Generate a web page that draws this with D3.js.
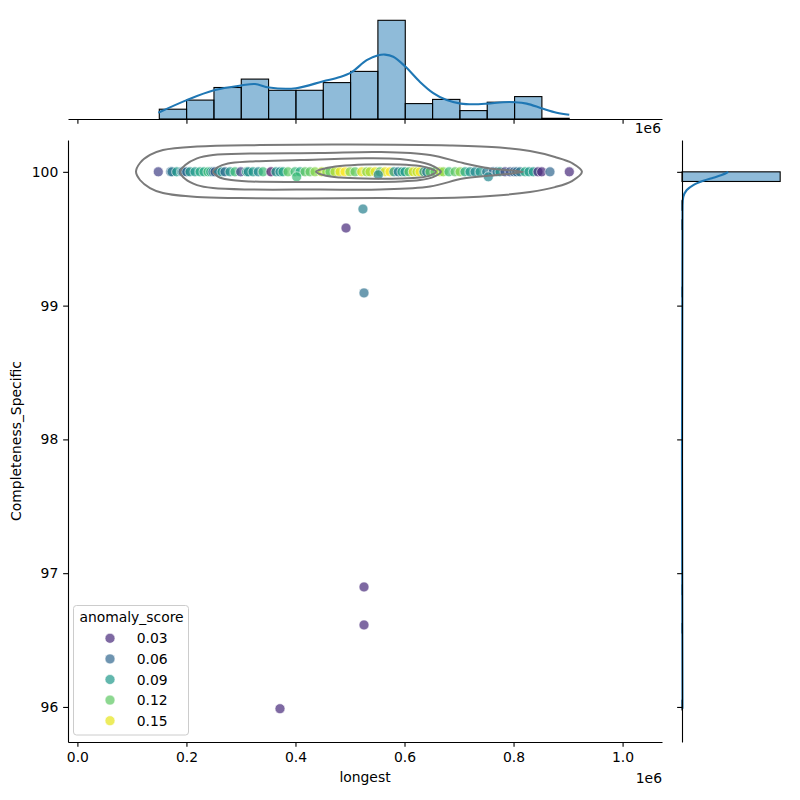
<!DOCTYPE html>
<html lang="en">
<head>
<meta charset="UTF-8">
<title>longest vs Completeness_Specific</title>
<script src="https://d3js.org/d3.v7.min.js"></script>
<style>
  body { margin: 0; background: #fff; }
  text { font-family: "DejaVu Sans", sans-serif; }
</style>
</head>
<body>
<svg width="800" height="800"></svg>
<script>
// ---- values ----

// scatter points (longest, Completeness_Specific, anomaly_score)
var pointLongest = [148400, 171100, 173500, 182100, 191300, 193700, 200500, 206500, 215700, 224900,
  232200, 239500, 244500, 248700, 252400, 257900, 265200, 270700, 279900, 289000,
  299500, 310500, 313500, 322100, 331800, 340400, 355100, 364300, 371600, 377100,
  386300, 399100, 408300, 417500, 426600, 435800, 448100, 457300, 463300, 472500,
  481700, 490800, 500000, 509200, 521500, 530600, 536700, 545900, 555000, 564200,
  573300, 580700, 588600, 595400, 600900, 608200, 616100, 622900, 628400, 635700,
  640700, 646700, 655900, 665000, 671100, 681600, 692600, 701800, 710900, 720100,
  729300, 738500, 750700, 762800, 769600, 775100, 784300, 793500, 800800, 805800,
  811800, 821000, 828300, 836200, 844800, 851600, 866800, 902300,
  402200, 551900, 753700, 523800, 492700, 525700, 525700, 525700, 371600];
var pointCompleteness = [100, 100, 100, 100, 100, 100, 100, 100, 100, 100,
  100, 100, 100, 100, 100, 100, 100, 100, 100, 100,
  100, 100, 100, 100, 100, 100, 100, 100, 100, 100,
  100, 100, 100, 100, 100, 100, 100, 100, 100, 100,
  100, 100, 100, 100, 100, 100, 100, 100, 100, 100,
  100, 100, 100, 100, 100, 100, 100, 100, 100, 100,
  100, 100, 100, 100, 100, 100, 100, 100, 100, 100,
  100, 100, 100, 100, 100, 100, 100, 100, 100, 100,
  100, 100, 100, 100, 100, 100, 100, 100,
  99.963, 99.978, 99.963, 99.722, 99.580, 99.095, 96.897, 96.613, 95.987];
var pointScore = [0.04, 0.06, 0.07, 0.09, 0.08, 0.06, 0.06, 0.09, 0.09, 0.10,
  0.10, 0.11, 0.10, 0.07, 0.05, 0.08, 0.09, 0.06, 0.09, 0.11,
  0.04, 0.10, 0.08, 0.09, 0.08, 0.11, 0.017, 0.09, 0.08, 0.10,
  0.12, 0.11, 0.10, 0.12, 0.12, 0.13, 0.14, 0.13, 0.12, 0.14,
  0.15, 0.16, 0.13, 0.12, 0.15, 0.13, 0.14, 0.15, 0.12, 0.15,
  0.16, 0.09, 0.07, 0.10, 0.09, 0.12, 0.15, 0.14, 0.16, 0.09,
  0.07, 0.12, 0.12, 0.14, 0.13, 0.11, 0.12, 0.13, 0.10, 0.09,
  0.08, 0.09, 0.07, 0.06, 0.07, 0.09, 0.04, 0.05, 0.06, 0.06,
  0.07, 0.10, 0.09, 0.09, 0.03, 0.03, 0.06, 0.03,
  0.11, 0.08, 0.08, 0.075, 0.03, 0.065, 0.03, 0.03, 0.03];

// top marginal histogram of longest
var xBinEdges = [150200, 200300, 250500, 300600, 350700, 400900, 451000, 501100, 551200,
  601400, 651500, 701600, 751700, 801900, 852000, 902100];
var xBinCounts = [14, 27, 45, 57, 41, 41, 52, 68, 141, 22, 28, 12, 24, 32, 1];

// top marginal kde (count units)
var xKdeAt = [148400, 200500, 250500, 301400, 325800, 351400, 401000, 451000, 481700, 503100,
  530600, 551900, 564200, 579400, 601400, 628400, 652800, 677400, 703000, 726200,
  751800, 781200, 802600, 824100, 852700, 879100, 902200];
var xKdeDensity = [9, 27, 41, 48, 50, 45, 44, 54, 60, 67,
  84, 91, 92, 89, 75, 53, 37, 27, 22, 21,
  22, 24, 24, 22, 15, 9, 6];

// right marginal histogram of Completeness_Specific (non-empty bins)
var yBinLow = [95.978, 96.553, 96.840, 99.066, 99.569, 99.713, 99.928];
var yBinHigh = [96.050, 96.624, 96.912, 99.138, 99.641, 99.784, 100.000];
var yBinCounts = [1, 1, 1, 1, 1, 1, 599];

// right marginal kde (count units)
var yKdeAt = [95.987, 99.700, 99.814, 99.864, 99.901, 99.933, 99.956, 99.976, 99.993, 100.000];
var yKdeDensity = [3, 3, 8, 29, 69, 130, 191, 242, 273, 282];

// bivariate kde contour lines (longest, Completeness_Specific)
var contour1 = [[107500, 100.000], [114800, 100.066], [133200, 100.126], [157000, 100.163],
  [219400, 100.189], [334900, 100.200], [500000, 100.204], [683400, 100.197], [775100, 100.182],
  [830200, 100.155], [876000, 100.111], [907200, 100.066], [925500, 100.000], [907200, 99.931],
  [876000, 99.886], [830200, 99.849], [756800, 99.819], [665100, 99.804], [555000, 99.804],
  [408300, 99.800], [298200, 99.804], [219400, 99.812], [157000, 99.842], [133200, 99.879],
  [114800, 99.939]];
var contour2 = [[188600, 100.000], [197900, 100.051], [219400, 100.101], [248700, 100.126],
  [316600, 100.137], [445000, 100.141], [555000, 100.148], [646700, 100.126], [707300, 100.066],
  [756800, 100.025], [817300, 100.000], [756800, 99.972], [707300, 99.950], [646700, 99.890],
  [555000, 99.868], [445000, 99.868], [316600, 99.868], [248700, 99.879], [219400, 99.901],
  [197900, 99.946]];
var contour3 = [[248700, 100.000], [257900, 100.036], [276100, 100.062], [316600, 100.077],
  [408300, 100.088], [527300, 100.101], [591700, 100.096], [628400, 100.073], [652300, 100.043],
  [666900, 100.000], [652300, 99.961], [628400, 99.939], [591700, 99.928], [527300, 99.924],
  [408300, 99.924], [316600, 99.928], [276100, 99.942], [257900, 99.965]];
var contour4 = [[437600, 100.000], [454200, 100.025], [481700, 100.043], [527300, 100.055],
  [591700, 100.055], [628400, 100.043], [646700, 100.025], [657700, 100.000], [646700, 99.972],
  [628400, 99.957], [591700, 99.950], [527300, 99.950], [481700, 99.957], [454200, 99.972]];

// ticks and legend
var xTickValues = [0, 200000, 400000, 600000, 800000, 1000000];
var xTickLabels = ["0.0", "0.2", "0.4", "0.6", "0.8", "1.0"];
var yTickValues = [96, 97, 98, 99, 100];
var legendScores = [0.03, 0.06, 0.09, 0.12, 0.15];

// ---- layout ----
var svg = d3.select("svg");
var fontPx = 13.9, tickLen = 4.86, dotR = 5;
var main = {left: 68, right: 662, top: 140, bottom: 742};
var topBase = 119;
var rightBase = 682;

var x = d3.scaleLinear().domain([-17240, 1072300]).range([main.left, main.right]);
var y = d3.scaleLinear().domain([95.738, 100.238]).range([main.bottom, main.top]);
var topCount = d3.scaleLinear().domain([0, 170]).range([topBase, 0]);
var rightCount = d3.scaleLinear().domain([0, 720]).range([rightBase, 800]);
var color = d3.scaleSequential(d3.interpolateViridis).domain([0.013, 0.156]);

function styleAxis(g) {
  g.selectAll("path.domain").attr("stroke", "#000").attr("stroke-width", 1.1);
  g.selectAll(".tick line").attr("stroke", "#000").attr("stroke-width", 1.1);
  g.selectAll(".tick text").attr("fill", "#000").attr("font-size", fontPx)
    .attr("font-family", "DejaVu Sans, sans-serif");
}

// ---- top marginal ----
var topG = svg.append("g");
topG.selectAll("rect")
  .data(xBinCounts)
  .enter().append("rect")
  .attr("x", function(d, i) { return x(xBinEdges[i]); })
  .attr("width", function(d, i) { return x(xBinEdges[i + 1]) - x(xBinEdges[i]); })
  .attr("y", function(d) { return topCount(d); })
  .attr("height", function(d) { return topBase - topCount(d); })
  .attr("fill", "#1f77b4").attr("fill-opacity", 0.5)
  .attr("stroke", "#000").attr("stroke-width", 1.1);

topG.append("path")
  .datum(xKdeAt.map(function(v, i) { return [v, xKdeDensity[i]]; }))
  .attr("fill", "none").attr("stroke", "#1f77b4").attr("stroke-width", 2.1)
  .attr("d", d3.line()
    .x(function(d) { return x(d[0]); })
    .y(function(d) { return topCount(d[1]); })
    .curve(d3.curveCatmullRom.alpha(0.5)));

topG.append("g")
  .attr("transform", "translate(0," + topBase + ")")
  .call(d3.axisBottom(x).tickValues(xTickValues).tickFormat("").tickSize(tickLen).tickSizeOuter(0))
  .call(styleAxis);

topG.append("text")
  .attr("x", 661).attr("y", 133)
  .attr("text-anchor", "end").attr("font-size", fontPx)
  .text("1e6");

// ---- right marginal ----
var rightG = svg.append("g");
rightG.selectAll("rect")
  .data(yBinCounts)
  .enter().append("rect")
  .attr("x", rightBase)
  .attr("y", function(d, i) { return y(yBinHigh[i]); })
  .attr("width", function(d) { return rightCount(d) - rightBase; })
  .attr("height", function(d, i) { return y(yBinLow[i]) - y(yBinHigh[i]); })
  .attr("fill", "#1f77b4").attr("fill-opacity", 0.5)
  .attr("stroke", "#000").attr("stroke-width", 1.1);

rightG.append("path")
  .datum(yKdeAt.map(function(v, i) { return [v, yKdeDensity[i]]; }))
  .attr("fill", "none").attr("stroke", "#1f77b4").attr("stroke-width", 2.1)
  .attr("d", d3.line()
    .x(function(d) { return rightCount(d[1]); })
    .y(function(d) { return y(d[0]); })
    .curve(d3.curveCatmullRom.alpha(0.5)));

rightG.append("g")
  .attr("transform", "translate(" + rightBase + ",0)")
  .call(d3.axisLeft(y).tickValues(yTickValues).tickFormat("").tickSize(tickLen).tickSizeOuter(0))
  .call(styleAxis);

// ---- joint axes ----
var pts = pointLongest.map(function(v, i) {
  return {x: v, y: pointCompleteness[i], s: pointScore[i]};
});

svg.append("g").selectAll("circle")
  .data(pts)
  .enter().append("circle")
  .attr("cx", function(d) { return x(d.x); })
  .attr("cy", function(d) { return y(d.y); })
  .attr("r", dotR)
  .attr("fill", function(d) { return color(d.s); })
  .attr("fill-opacity", 0.7)
  .attr("stroke", "#fff").attr("stroke-opacity", 0.7).attr("stroke-width", 0.9);

var contourLine = d3.line()
  .x(function(d) { return x(d[0]); })
  .y(function(d) { return y(d[1]); })
  .curve(d3.curveCatmullRomClosed.alpha(0.5));

svg.append("g").selectAll("path")
  .data([contour1, contour2, contour3, contour4])
  .enter().append("path")
  .attr("d", contourLine)
  .attr("fill", "none")
  .attr("stroke", "#7a7a7a")
  .attr("stroke-width", 2);

svg.append("g")
  .attr("transform", "translate(0," + main.bottom + ")")
  .call(d3.axisBottom(x).tickValues(xTickValues)
    .tickFormat(function(d, i) { return xTickLabels[i]; })
    .tickSize(tickLen).tickPadding(4.86).tickSizeOuter(0))
  .call(styleAxis);

svg.append("g")
  .attr("transform", "translate(" + main.left + ",0)")
  .call(d3.axisLeft(y).tickValues(yTickValues).tickFormat(d3.format("d"))
    .tickSize(tickLen).tickPadding(4.86).tickSizeOuter(0))
  .call(styleAxis);

svg.append("text")
  .attr("x", 662).attr("y", 783)
  .attr("text-anchor", "end").attr("font-size", fontPx)
  .text("1e6");

svg.append("text")
  .attr("x", (main.left + main.right) / 2).attr("y", 782)
  .attr("text-anchor", "middle").attr("font-size", fontPx)
  .text("longest");

svg.append("text")
  .attr("transform", "translate(21," + (main.top + main.bottom) / 2 + ") rotate(-90)")
  .attr("text-anchor", "middle").attr("font-size", fontPx)
  .text("Completeness_Specific");

// ---- legend ----
var legend = svg.append("g");
legend.append("rect")
  .attr("x", 73.5).attr("y", 605.5).attr("width", 115).attr("height", 129.5)
  .attr("rx", 3).attr("fill", "#fff").attr("fill-opacity", 0.8)
  .attr("stroke", "#cccccc").attr("stroke-width", 1);

legend.append("text")
  .attr("x", 131.5).attr("y", 622)
  .attr("text-anchor", "middle").attr("font-size", fontPx)
  .text("anomaly_score");

var entries = legend.selectAll("g.entry")
  .data(legendScores)
  .enter().append("g")
  .attr("class", "entry")
  .attr("transform", function(d, i) { return "translate(0," + (638.3 + i * 20.6) + ")"; });

entries.append("circle")
  .attr("cx", 110).attr("cy", 0).attr("r", dotR)
  .attr("fill", function(d) { return color(d); })
  .attr("fill-opacity", 0.7)
  .attr("stroke", "#fff").attr("stroke-opacity", 0.7).attr("stroke-width", 0.9);

entries.append("text")
  .attr("x", 136.7).attr("y", 5)
  .attr("font-size", fontPx)
  .text(function(d) { return d3.format(".2f")(d); });
</script>
</body>
</html>
